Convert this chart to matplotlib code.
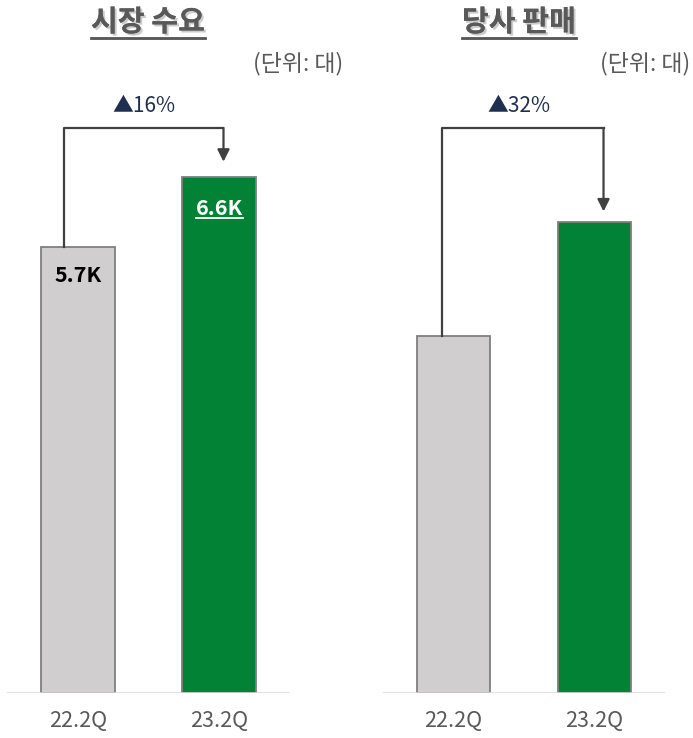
import matplotlib
matplotlib.use("Agg")
import matplotlib.pyplot as plt
import matplotlib.patheffects as pe
from matplotlib.lines import Line2D

plt.rcParams['font.family'] = ['Noto Sans CJK KR', 'DejaVu Sans']

# data
categories = ['22.2Q', '23.2Q']
market_values = [5.7, 6.6]          # 시장 수요 (K대)
market_labels = ['5.7K', '6.6K']
sales_values = [100, 132]           # 당사 판매 (상대값, 라벨 없음)
titles = ['시장 수요', '당사 판매']
growth_labels = ['▲16%', '▲32%']

C_GRAY = '#D0CECE'
C_GREEN = '#028234'
C_EDGE = '#7F7F7F'
C_TEXT = '#595959'
C_NAVY = '#1F2F4F'
C_BRACKET = '#404040'

W, H = 693, 738
fig = plt.figure(figsize=(W / 100, H / 100), dpi=100)
fig.patch.set_facecolor('white')


def px_rect(x0, x1, ytop, ybot):
    return [x0 / W, 1 - ybot / H, (x1 - x0) / W, (ybot - ytop) / H]


panels = [
    dict(rect=px_rect(7, 290, 90, 693), values=market_values, ymax=7.71,
         labels=market_labels, off0=-0.095, off1=0.03, gap=0.025,
         title_x=148, unit_x=343),
    dict(rect=px_rect(383, 665, 90, 693), values=sales_values, ymax=168.9,
         labels=None, off0=-0.08, off1=0.064, gap=0.017,
         title_x=519, unit_x=690),
]

title_texts = []
value_under = None
shadow = [pe.withSimplePatchShadow(offset=(1.5, -1.5), shadow_rgbFace='#999999',
                                   alpha=0.5), pe.Normal()]
for i, p in enumerate(panels):
    ax = fig.add_axes(p['rect'])
    ax.set_xlim(-0.5, 1.5)
    ax.set_ylim(0, p['ymax'])
    for s in ax.spines.values():
        s.set_visible(False)
    ax.set_yticks([])
    ax.bar([0, 1], p['values'], width=0.52, color=[C_GRAY, C_GREEN],
           edgecolor=C_EDGE, linewidth=1.3, zorder=2)
    ax.axhline(0, color='#D9D9D9', lw=1.8, zorder=3)
    ax.set_xticks([0, 1])
    ax.set_xticklabels(categories, fontsize=15.5, color=C_TEXT)
    ax.tick_params(axis='x', length=0, pad=12)

    # bracket + arrow (x in data, y in axes fraction)
    tr = ax.get_xaxis_transform()
    v0, v1 = p['values']
    ytop = 0.937
    x0 = 0 + p['off0']
    x1 = 1 + p['off1']
    ax.plot([x0, x0, x1], [v0 / p['ymax'], ytop, ytop], color=C_BRACKET,
            lw=1.6, transform=tr, zorder=4, clip_on=False)
    ax.annotate('', xy=(x1, v1 / p['ymax'] + p['gap']), xytext=(x1, ytop),
                xycoords=tr, textcoords=tr,
                arrowprops=dict(arrowstyle='-|>', color=C_BRACKET, lw=1.6,
                                mutation_scale=18, shrinkA=0, shrinkB=0))
    ax.text(0.465, 0.973, growth_labels[i], transform=tr, ha='center',
            va='center', fontsize=15, color=C_NAVY)

    if p['labels']:
        ax.text(0, v0 / p['ymax'] - 0.047, p['labels'][0], transform=tr,
                ha='center', va='center', fontsize=15.5, fontweight='bold',
                color='black', zorder=5)
        value_under = ax.text(1, v1 / p['ymax'] - 0.052, p['labels'][1],
                              transform=tr, ha='center', va='center',
                              fontsize=15.5, fontweight='bold', color='white',
                              zorder=5)

    t = fig.text(p['title_x'] / W, 1 - 22 / H, titles[i], ha='center',
                 va='center', fontsize=21, fontweight='bold', color=C_TEXT,
                 path_effects=shadow)
    title_texts.append(t)
    fig.text(p['unit_x'] / W, 1 - 64 / H, '(단위: 대)', ha='right',
             va='center', fontsize=16.5, color=C_TEXT)

# underlines
fig.canvas.draw()
r = fig.canvas.get_renderer()
for t in title_texts:
    bb = t.get_window_extent(r)
    y = bb.y0 - 1
    fig.add_artist(Line2D([bb.x0 / W, bb.x1 / W], [y / H, y / H],
                          color=C_TEXT, lw=1.8, path_effects=shadow))
if value_under is not None:
    bb = value_under.get_window_extent(r)
    y = bb.y0 + 1
    fig.add_artist(Line2D([bb.x0 / W, bb.x1 / W], [y / H, y / H],
                          color='white', lw=1.3, zorder=6))

fig.savefig('out.png', dpi=100, facecolor='white')
